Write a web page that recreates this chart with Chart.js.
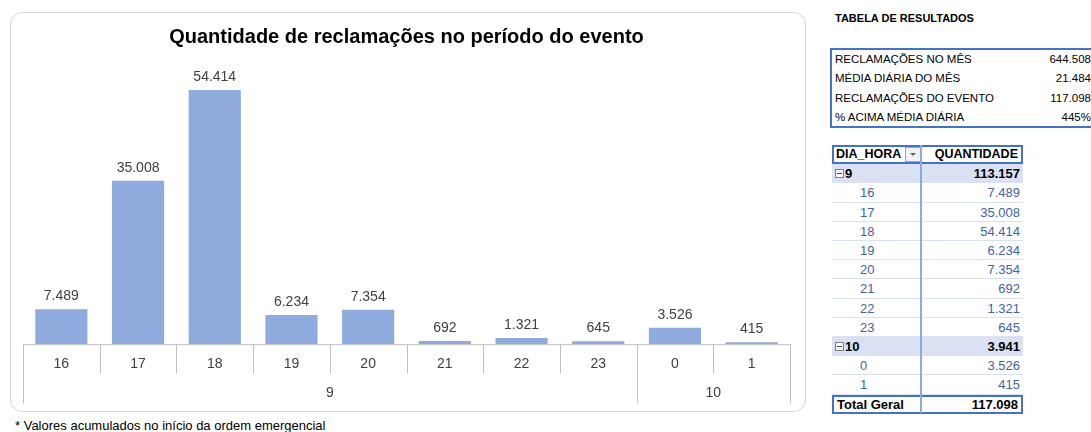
<!DOCTYPE html>
<html>
<head>
<meta charset="utf-8">
<script src="https://cdn.jsdelivr.net/npm/chart.js@4.4.1/dist/chart.umd.min.js"></script>
<style>
  body { margin: 0; background: #fff; font-family: "Liberation Sans", Arial, sans-serif; width: 1091px; height: 432px; overflow: hidden; position: relative; }
  #chartBox { position: absolute; left: 10px; top: 12px; width: 794px; height: 398px; border: 1px solid #d9d9d9; border-radius: 12px; overflow: hidden; }
  #chartBox canvas { display: block; }
  .note { position: absolute; left: 15px; top: 418px; font-size: 13px; color: #000; white-space: nowrap; }
  .resTitle { position: absolute; left: 835px; top: 12px; font-size: 11px; font-weight: bold; color: #000; }
  #res { position: absolute; left: 830px; top: 48px; width: 290px; height: 76px; border: 2px solid #4472c4; box-sizing: content-box; }
  .rrow { position: absolute; left: 0; height: 19px; line-height: 19px; font-size: 11.5px; color: #000; width: 100%; }
  .rrow .l { position: absolute; left: 3px; }
  .rrow .v { position: absolute; right: 31px; }
  .prow { position: absolute; left: 832px; width: 191px; height: 19.2px; line-height: 19px; font-size: 13px; box-sizing: border-box; }
  .prow .a { position: absolute; left: 3px; top: 0; }
  .prow .b { position: absolute; right: 3px; top: 0; }
  .child { color: #44649c; border-bottom: 1px solid #d9e1f2; }
  .child .a { left: 28px; }
  .group { background: #d9e1f2; font-weight: bold; color: #000; }
  .head, .total { border: 2px solid #4472c4; font-weight: bold; color: #000; line-height: 15px; }
  .head { font-size: 12.5px; }
  .head .a { left: 2px; }
  .head .b { right: 3px; }
  .minus { display: inline-block; width: 7px; height: 7px; border: 1px solid #808080; margin-right: 1px; position: relative; top: 0px; background: #fff; }
  .minus::after { content: ""; position: absolute; left: 1px; right: 1px; top: 3px; height: 1px; background: #404040; }
  .drop { position: absolute; left: 69px; top: 0px; width: 14px; height: 13px; border: 1px solid #a6a6a6; background: #f2f2f2; }
  .drop::after { content: ""; position: absolute; left: 4px; top: 5px; border-left: 3px solid transparent; border-right: 3px solid transparent; border-top: 3px solid #606060; }
  #vdiv { position: absolute; left: 920px; top: 145px; width: 2px; height: 268px; background: #8eaadb; }
</style>
</head>
<body>
<div id="chartBox"><canvas id="chart" width="794" height="398"></canvas></div>
<div class="note">* Valores acumulados no início da ordem emergencial</div>
<div class="resTitle">TABELA DE RESULTADOS</div>
<div id="res"></div>
<div id="pivot"></div>
<script>
// chart data
const hours = ['16', '17', '18', '19', '20', '21', '22', '23', '0', '1'];
const days = ['9', '9', '9', '9', '9', '9', '9', '9', '10', '10'];
const counts = [7489, 35008, 54414, 6234, 7354, 692, 1321, 645, 3526, 415];

// results table
const summaryLabels = ['RECLAMAÇÕES NO MÊS', 'MÉDIA DIÁRIA DO MÊS', 'RECLAMAÇÕES DO EVENTO', '% ACIMA MÉDIA DIÁRIA'];
const summaryValues = ['644.508', '21.484', '117.098', '445%'];

const chartTitle = 'Quantidade de reclamações no período do evento';

const fmt = n => String(n).replace(/\B(?=(\d{3})+(?!\d))/g, '.');

// labels above bars
const valueLabels = {
  id: 'valueLabels',
  afterDatasetsDraw(chart) {
    const ctx = chart.ctx;
    const meta = chart.getDatasetMeta(0);
    ctx.save();
    ctx.font = '14px "Liberation Sans", Arial, sans-serif';
    ctx.fillStyle = '#404040';
    ctx.textAlign = 'center';
    ctx.textBaseline = 'bottom';
    meta.data.forEach((bar, i) => {
      ctx.fillText(fmt(counts[i]), bar.x, bar.y - 6);
    });
    ctx.restore();
  }
};

// two level category axis (hour / day)
const groupAxis = {
  id: 'groupAxis',
  afterDraw(chart) {
    const ctx = chart.ctx;
    const x = chart.scales.x;
    const y0 = chart.chartArea.bottom;
    const step = x.getPixelForValue(1) - x.getPixelForValue(0);
    const edge = i => x.getPixelForValue(i) - step / 2;
    ctx.save();
    ctx.strokeStyle = '#bfbfbf';
    ctx.lineWidth = 1;
    ctx.beginPath();
    ctx.moveTo(edge(0), y0 + 0.5);
    ctx.lineTo(edge(hours.length), y0 + 0.5);
    for (let i = 0; i <= hours.length; i++) {
      const groupEdge = i === 0 || i === hours.length || days[i] !== days[i - 1];
      const px = Math.round(edge(i)) + 0.5;
      ctx.moveTo(px, y0);
      ctx.lineTo(px, y0 + (groupEdge ? 59 : 29));
    }
    ctx.stroke();

    ctx.font = '14px "Liberation Sans", Arial, sans-serif';
    ctx.fillStyle = '#404040';
    ctx.textAlign = 'center';
    ctx.textBaseline = 'middle';
    let start = 0;
    for (let i = 1; i <= hours.length; i++) {
      if (i === hours.length || days[i] !== days[start]) {
        ctx.fillText(days[start], (edge(start) + edge(i)) / 2, y0 + 49);
        start = i;
      }
    }
    ctx.restore();
  }
};

new Chart(document.getElementById('chart'), {
  type: 'bar',
  data: {
    labels: hours,
    datasets: [{
      data: counts,
      backgroundColor: '#8faadc',
      barPercentage: 0.68,
      categoryPercentage: 1
    }]
  },
  options: {
    responsive: false,
    animation: false,
    layout: { padding: { left: 12, right: 15, top: 0, bottom: 26 } },
    plugins: {
      legend: { display: false },
      tooltip: { enabled: false },
      title: {
        display: true,
        text: chartTitle,
        color: '#000',
        font: { family: '"Liberation Sans", Arial, sans-serif', size: 20, weight: 'bold' },
        padding: { top: 12, bottom: 15 }
      }
    },
    scales: {
      y: { display: false, min: 0, max: 60000 },
      x: {
        grid: { display: false, drawTicks: false },
        border: { display: false },
        ticks: {
          color: '#404040',
          padding: 12,
          font: { family: '"Liberation Sans", Arial, sans-serif', size: 14 }
        }
      }
    }
  },
  plugins: [valueLabels, groupAxis]
});

// results table
const res = document.getElementById('res');
summaryLabels.forEach((lab, i) => {
  const r = document.createElement('div');
  r.className = 'rrow';
  r.style.top = (i * 19.3) + 'px';
  r.innerHTML = '<span class="l">' + lab + '</span><span class="v">' + summaryValues[i] + '</span>';
  res.appendChild(r);
});

// pivot table rows
const pivot = document.getElementById('pivot');
const rows = [{ cls: 'head', a: 'DIA_HORA<span class="drop"></span>', b: 'QUANTIDADE' }];
let gi = 0;
while (gi < hours.length) {
  let gj = gi;
  while (gj < hours.length && days[gj] === days[gi]) gj++;
  const sum = counts.slice(gi, gj).reduce((s, v) => s + v, 0);
  rows.push({ cls: 'group', a: '<span class="minus"></span>' + days[gi], b: fmt(sum) });
  for (let k = gi; k < gj; k++) rows.push({ cls: 'child', a: hours[k], b: fmt(counts[k]) });
  gi = gj;
}
rows.push({ cls: 'total', a: 'Total Geral', b: fmt(counts.reduce((s, v) => s + v, 0)) });
rows.forEach((r, i) => {
  const d = document.createElement('div');
  d.className = 'prow ' + r.cls;
  d.style.top = (145 + i * 19.2) + 'px';
  d.innerHTML = '<span class="a">' + r.a + '</span><span class="b">' + r.b + '</span>';
  pivot.appendChild(d);
});
const vd = document.createElement('div');
vd.id = 'vdiv';
pivot.appendChild(vd);
</script>
</body>
</html>
